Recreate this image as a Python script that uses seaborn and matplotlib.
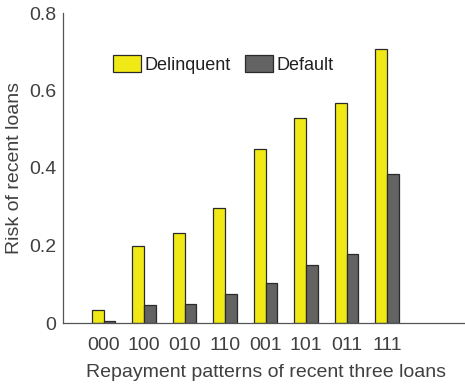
import matplotlib
matplotlib.use("Agg")
import matplotlib.pyplot as plt
import seaborn as sns
import pandas as pd

patterns = ["000", "100", "010", "110", "001", "101", "011", "111"]
delinquent = [0.033, 0.200, 0.231, 0.296, 0.448, 0.530, 0.568, 0.706]
default = [0.005, 0.046, 0.050, 0.074, 0.102, 0.150, 0.178, 0.384]
series = ["Delinquent", "Default"]
yticks = [0, 0.2, 0.4, 0.6, 0.8]
ytick_labels = ["0", "0.2", "0.4", "0.6", "0.8"]

df = pd.DataFrame({
    "pattern": patterns * 2,
    "risk": delinquent + default,
    "series": [series[0]] * len(patterns) + [series[1]] * len(patterns),
})

sns.set_style("white")
plt.rcParams["font.family"] = ["Liberation Sans", "DejaVu Sans"]
txt = "#404040"

fig = plt.figure(figsize=(4.65, 3.88), dpi=100)
ax = fig.add_axes([63 / 465, 65 / 388, 405 / 465, 310 / 388])
sns.barplot(data=df, x="pattern", y="risk", hue="series", order=patterns,
            hue_order=series, palette=["#F0E916", "#636363"], width=0.58,
            edgecolor="#2a2a2a", linewidth=0.9, saturation=1, ax=ax)
ax.set_xlim(-1, 9)
ax.set_ylim(0, 0.8)
ax.set_yticks(yticks)
ax.set_yticklabels(ytick_labels)
for s in ["top", "right"]:
    ax.spines[s].set_visible(False)
for s in ["left", "bottom"]:
    ax.spines[s].set_color("#555555")
    ax.spines[s].set_linewidth(0.9)
ax.tick_params(axis="y", direction="in", length=4, width=0.8, colors="#555555",
               labelcolor=txt, labelsize=14, pad=5)
ax.tick_params(axis="x", length=0, labelcolor=txt, labelsize=14, pad=10)
ax.set_xlabel("Repayment patterns of recent three loans", fontsize=14, color=txt, labelpad=7)
ax.set_ylabel("Risk of recent loans", fontsize=14, color=txt, labelpad=4)
leg = ax.legend(loc="center left", bbox_to_anchor=(0.123, 0.834), ncol=2, frameon=False,
                fontsize=13, handlelength=1.55, handleheight=1.05, handletextpad=0.2,
                columnspacing=0.78, borderaxespad=0, borderpad=0)
for t in leg.get_texts():
    t.set_color("#202020")
fig.savefig("out.png", dpi=100)
